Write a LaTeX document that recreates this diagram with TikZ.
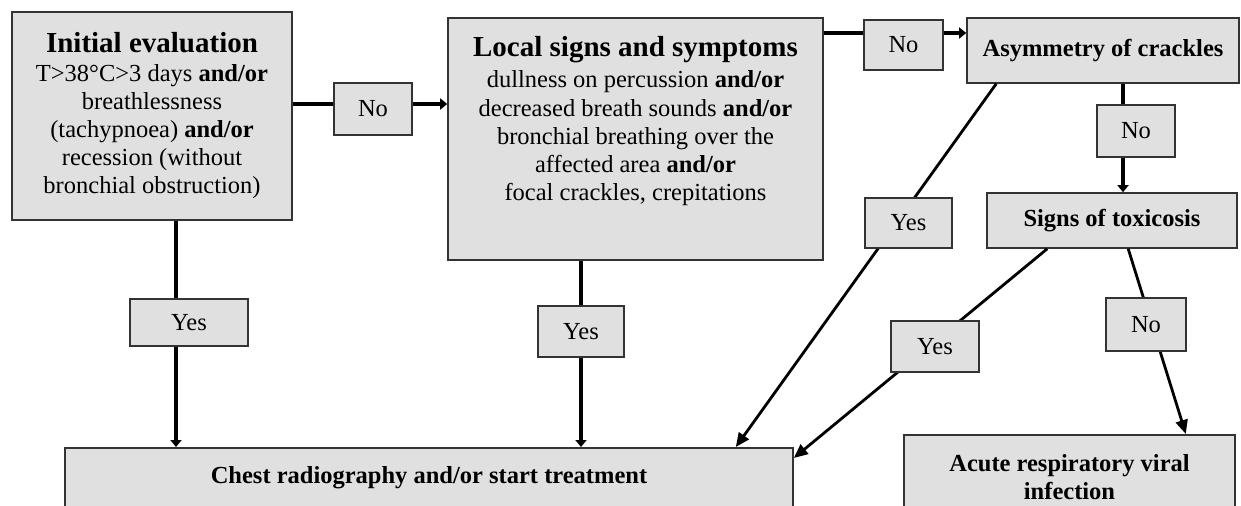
\documentclass[tikz,border=0pt]{standalone}
\usepackage{fontspec}
\setmainfont{Liberation Serif}
\usetikzlibrary{arrows.meta,positioning}
\definecolor{boxgray}{RGB}{224,224,224}
\definecolor{edgegray}{RGB}{51,51,51}
\newcommand{\bodysize}{\fontsize{12.25}{14.1}\selectfont}
\newcommand{\headsize}{\fontsize{14.5}{15}\selectfont}

\begin{document}
\begin{tikzpicture}[x=0.5pt, y=-0.5pt,
  box/.style={rectangle, draw=edgegray, line width=0.8pt, fill=boxgray, align=center, font=\bodysize, inner sep=0pt},
  tag/.style={box},
  flow/.style={line width=2.2pt, -{Triangle[length=3.5pt,width=5.5pt]}},
  slant/.style={line width=1.4pt, -{Triangle[length=7pt,width=6pt]}}]
  \clip (0,0) rectangle (1241,505);
  \node[box, minimum width=140pt, minimum height=104pt] (init) at (152,116) {{\headsize\bfseries Initial evaluation}\\
    T>38°C>3 days \textbf{and/or}\\ breathlessness\\ (tachypnoea) \textbf{and/or}\\ recession (without\\ bronchial obstruction)};
  \node[box, minimum width=187.5pt, minimum height=121pt] (local) at (635.5,139) {};
  \node[font=\bodysize, align=center, inner sep=0pt, below=9.5pt of local.north] (localtxt) {{\headsize\bfseries Local signs and symptoms}\\[1.5pt]
    dullness on percussion \textbf{and/or}\\ decreased breath sounds \textbf{and/or}\\ bronchial breathing over the\\ affected area \textbf{and/or}\\ focal crackles, crepitations};
  \node[box, font=\bodysize\bfseries, minimum width=136pt, minimum height=32.5pt] (asym) at (1103,50.5) {Asymmetry of crackles};
  \node[box, font=\bodysize\bfseries, minimum width=125pt, minimum height=27.5pt] (tox) at (1112,220.5) {Signs of toxicosis};
  \node[box, font=\bodysize\bfseries, minimum width=364pt, minimum height=30pt, anchor=north] (chest) at (429,447) {Chest radiography and/or start treatment};
  \node[box, font=\bodysize\bfseries, minimum width=165.5pt, minimum height=42.5pt, anchor=north] (acute) at (1069.5,434) {Acute respiratory viral\\ infection};

  \coordinate (rowA) at (0,104);
  \coordinate (rowB) at (0,33);
  \coordinate (colA) at (176,0);
  \coordinate (colB) at (581,0);
  \coordinate (colC) at (1123,0);

  \draw[flow] (init.east |- rowA) -- (local.west |- rowA);
  \draw[flow] (init.south -| colA) -- (chest.north -| colA);
  \draw[flow] (local.south -| colB) -- (chest.north -| colB);
  \draw[flow] (local.east |- rowB) -- (asym.west |- rowB);
  \draw[flow] (asym.south -| colC) -- (tox.north -| colC);
  \draw[slant] ([xshift=15pt]asym.south west) -- ([xshift=-29pt]chest.north east);
  \draw[slant] ([xshift=30.5pt]tox.south west) -- ([yshift=-5.5pt]chest.north east);
  \draw[slant] ([xshift=71pt]tox.south west) -- ([xshift=-25pt]acute.north east);

  \node[tag, minimum width=39pt, minimum height=26pt] (noA) at (373,109) {No};
  \node[tag, minimum width=39.5pt, minimum height=25pt] (noB) at (903.5,45) {No};
  \node[tag, minimum width=39pt, minimum height=26pt] (noC) at (1136,131) {No};
  \node[tag, minimum width=59pt, minimum height=23.5pt] (yesA) at (189,322.5) {Yes};
  \node[tag, minimum width=43pt, minimum height=25.5pt] (yesB) at (581,331.5) {Yes};
  \node[tag, minimum width=43.5pt, minimum height=25pt] (yesC) at (908.5,223) {Yes};
  \node[tag, minimum width=44pt, minimum height=25.5pt] (yesD) at (935,346.5) {Yes};
  \node[tag, minimum width=40pt, minimum height=26.5pt] (noD) at (1146,324.5) {No};
\end{tikzpicture}
\end{document}
